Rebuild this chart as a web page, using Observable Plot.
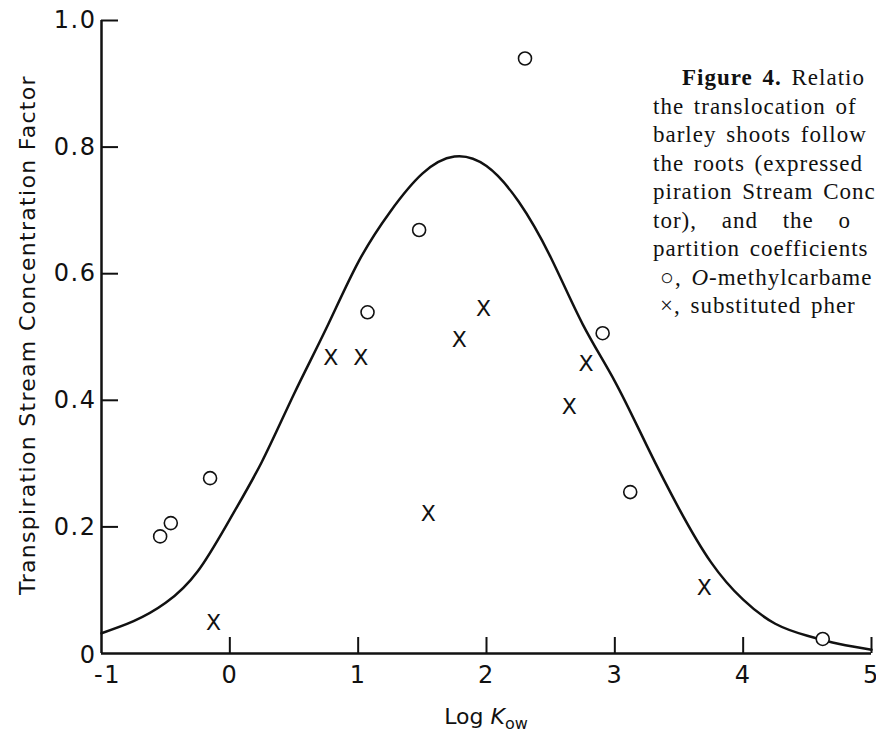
<!DOCTYPE html>
<html><head><meta charset="utf-8">
<script src="https://cdn.jsdelivr.net/npm/d3@7"></script>
<script src="https://cdn.jsdelivr.net/npm/@observablehq/plot@0.6"></script>
<style>
html,body{margin:0;padding:0;background:#fff;width:876px;height:735px;overflow:hidden;position:relative}
#chart svg{display:block}
#cap{position:absolute;left:653px;top:64px;font-family:"Liberation Serif","DejaVu Serif",serif;font-size:23px;line-height:28.5px;color:#111;white-space:nowrap;letter-spacing:1.0px;word-spacing:3px}
#cap div{height:28.5px}
</style></head><body>
<div id="chart"></div>
<div id="cap">
<div style="padding-left:29px"><b>Figure 4.</b> Relatio</div>
<div>the translocation of</div>
<div>barley shoots follow</div>
<div>the roots (expressed</div>
<div>piration Stream Conc</div>
<div style="word-spacing:18px">tor), and the o</div>
<div>partition coefficients</div>
<div style="padding-left:7px">○, <i>O</i>-methylcarbame</div>
<div style="padding-left:7px">×, substituted pher</div>
</div>
<script>
// O-methylcarbamoyloximes (circles)
const circleX = [-0.543, -0.460, -0.154, 1.073, 1.475, 2.300, 2.905, 3.120, 4.620];
const circleY = [0.185, 0.206, 0.277, 0.539, 0.669, 0.940, 0.506, 0.255, 0.023];
// substituted phenylureas (crosses)
const crossX = [-0.127, 0.787, 1.021, 1.546, 1.787, 1.977, 2.645, 2.775, 3.697];
const crossY = [0.049, 0.467, 0.467, 0.221, 0.496, 0.545, 0.390, 0.458, 0.104];
// fitted curve
const curveX = [-1, -0.75, -0.5, -0.25, 0, 0.25, 0.5, 0.75, 1, 1.25, 1.5, 1.75, 2, 2.25, 2.5, 2.75, 3, 3.25, 3.5, 3.75, 4, 4.25, 4.5, 4.75, 5];
const curveY = [0.032, 0.051, 0.080, 0.130, 0.212, 0.303, 0.410, 0.513, 0.618, 0.698, 0.758, 0.785, 0.770, 0.714, 0.626, 0.520, 0.430, 0.328, 0.229, 0.144, 0.085, 0.047, 0.028, 0.015, 0.006];
const xTicks = [-1, 0, 1, 2, 3, 4, 5];
const yTicks = [0, 0.2, 0.4, 0.6, 0.8, 1.0];
const yTitle = "Transpiration Stream Concentration Factor";

const circles = circleX.map((x, i) => ({x, y: circleY[i]}));
const crosses = crossX.map((x, i) => ({x, y: crossY[i]}));
const curve = curveX.map((x, i) => ({x, y: curveY[i]}));

const FONT = "DejaVu Sans";

const plot = Plot.plot({
  width: 876, height: 735,
  marginTop: 20, marginBottom: 82, marginLeft: 101, marginRight: 5,
  x: {domain: [-1, 5]},
  y: {domain: [0, 1]},
  style: {fontFamily: FONT, fontSize: "24px", color: "#111", background: "white"},
  marks: [
    Plot.axisX({ticks: xTicks, tickSize: 0, tickPadding: 12, tickFormat: d => String(d), label: null, fontSize: 24}),
    Plot.axisY({ticks: yTicks, tickSize: 0, tickPadding: 5, tickFormat: d => d === 0 ? "0" : d.toFixed(1), label: null, fontSize: 24}),
    Plot.ruleX([-1], {strokeWidth: 2.5, stroke: "#111"}),
    Plot.ruleY([0], {strokeWidth: 2.5, stroke: "#111"}),
    // inward tick marks
    Plot.ruleX(xTicks.filter(d => d !== -1), {x: d => d, y1: () => 0, y2: () => 0, insetTop: -16, stroke: "#111", strokeWidth: 2}),
    Plot.ruleY(yTicks.filter(d => d !== 0), {y: d => d, x1: () => -1, x2: () => -1, insetRight: -17, stroke: "#111", strokeWidth: 2}),
    Plot.line(curve, {x: "x", y: "y", curve: "natural", strokeWidth: 2.5, stroke: "#111"}),
    Plot.dot(circles, {x: "x", y: "y", r: 6.5, stroke: "#111", fill: "white", strokeWidth: 1.6}),
    Plot.text(crosses, {x: "x", y: "y", text: () => "X", fontSize: 22, fill: "#111", fontFamily: FONT})
  ]
});
document.getElementById("chart").appendChild(plot);

const svg = d3.select(plot);
svg.selectAll("g[aria-label='x-axis tick label'] text, g[aria-label='y-axis tick label'] text")
  .attr("letter-spacing", "1.5px");
svg.selectAll("g[aria-label='y-axis tick label'] text")
  .filter(function() { return this.textContent === "0"; })
  .attr("dy", "0.06em");
svg.selectAll("g[aria-label='x-axis tick label'] text")
  .filter(function() { return this.textContent === "-1"; })
  .attr("dx", 6);
svg.append("text")
  .attr("transform", "translate(29,335) rotate(-90)")
  .attr("text-anchor", "middle")
  .attr("dominant-baseline", "middle")
  .attr("letter-spacing", "1.3px")
  .attr("font-family", FONT).attr("font-size", 22).attr("fill", "#111")
  .text(yTitle);
const xl = svg.append("text")
  .attr("x", 486).attr("y", 724)
  .attr("text-anchor", "middle")
  .attr("font-family", FONT).attr("font-size", 22).attr("fill", "#111");
xl.append("tspan").text("Log ");
xl.append("tspan").attr("font-style", "italic").text("K");
xl.append("tspan").attr("font-size", 16).attr("dy", 5).text("ow");
</script>
</body></html>
